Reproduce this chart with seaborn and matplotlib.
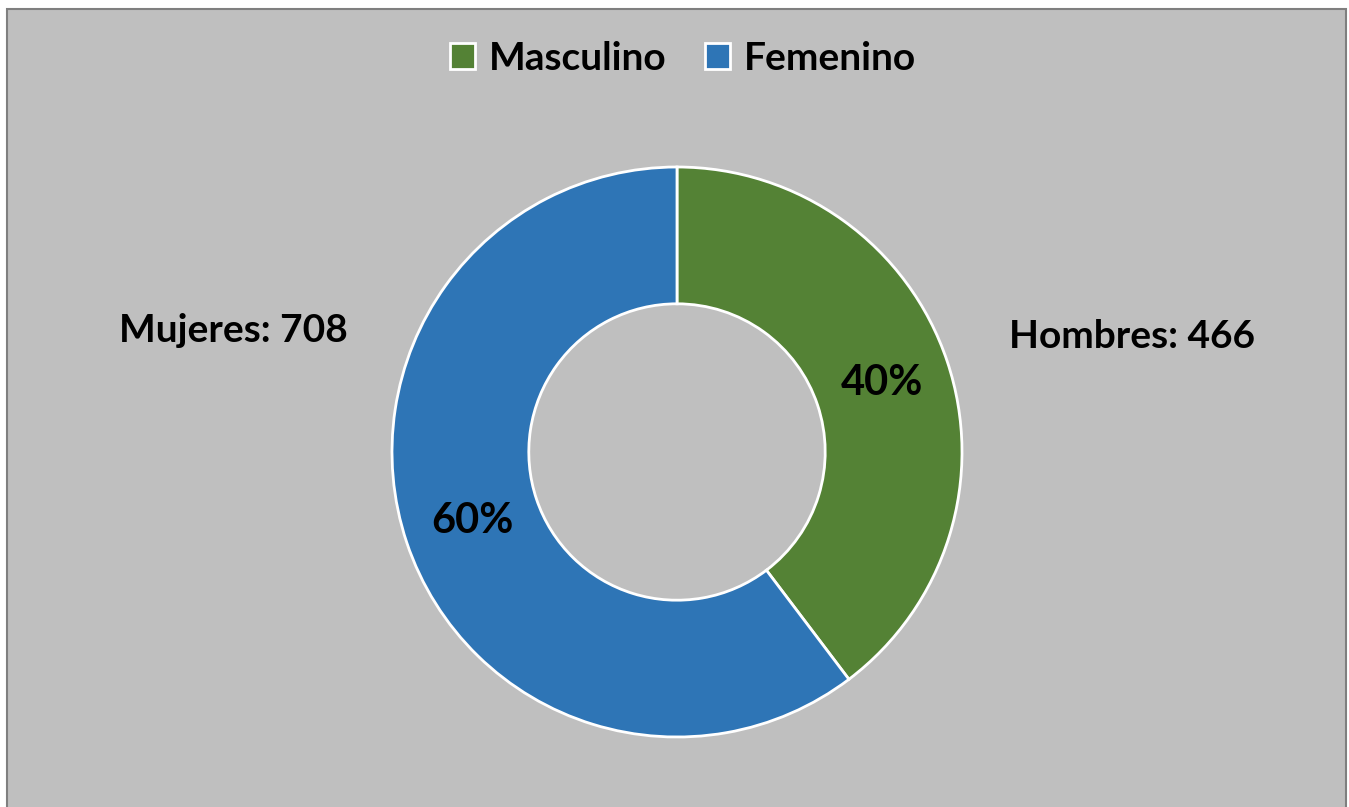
import matplotlib
matplotlib.use("Agg")
import matplotlib.pyplot as plt
import seaborn as sns
from matplotlib.patches import Rectangle, Patch

categories = ["Masculino", "Femenino"]
values = [466, 708]
outer_labels = ["Hombres: 466", "Mujeres: 708"]
colors = ["#548235", "#2E75B6"]

sns.set_theme(style="white")
plt.rcParams['font.family'] = ['Lato', 'DejaVu Sans']
plt.rcParams['text.color'] = 'black'

W, H = 1349, 807
fig = plt.figure(figsize=(W / 100, H / 100), dpi=100)
fig.patch.set_facecolor("white")
bg = Rectangle((7 / W, -0.01), (1346 - 7) / W, (H - 9) / H + 0.01,
               transform=fig.transFigure, facecolor="#BFBFBF",
               edgecolor="#7F7F7F", linewidth=1.5, zorder=-10)
fig.patches.append(bg)

cx, cy, r = 677, 452, 285
ax = fig.add_axes([(cx - r) / W, (H - cy - r) / H, 2 * r / W, 2 * r / H])
ax.set_zorder(5)
ax.set_facecolor("none")
wedges, texts, autotexts = ax.pie(
    values, colors=colors, startangle=90, counterclock=False,
    radius=1, autopct=lambda p: f"{p:.0f}%", pctdistance=0.757,
    wedgeprops=dict(width=0.48, edgecolor="white", linewidth=2),
    textprops=dict(fontsize=30, fontweight="bold", color="black"))
ax.set_xlim(-1, 1)
ax.set_ylim(-1, 1)
ax.set_aspect("equal")
ax.axis("off")

ax.text(1.596, 0.407, outer_labels[0], ha="center", va="center", fontsize=28,
        fontweight="bold", color="black", clip_on=False)
ax.text(-1.558, 0.428, outer_labels[1], ha="center", va="center", fontsize=28,
        fontweight="bold", color="black", clip_on=False)

handles = [Patch(facecolor=c, edgecolor="white", linewidth=2) for c in colors]
leg = fig.legend(handles, categories, loc="center", bbox_to_anchor=(683 / W, 1 - 58 / H),
                 ncol=2, frameon=False, prop=dict(size=28, weight="bold"),
                 handlelength=0.65, handleheight=0.65, handletextpad=0.35, columnspacing=1.0)
for t in leg.get_texts():
    t.set_color("black")

fig.savefig("out.png", dpi=100, facecolor=fig.get_facecolor())
